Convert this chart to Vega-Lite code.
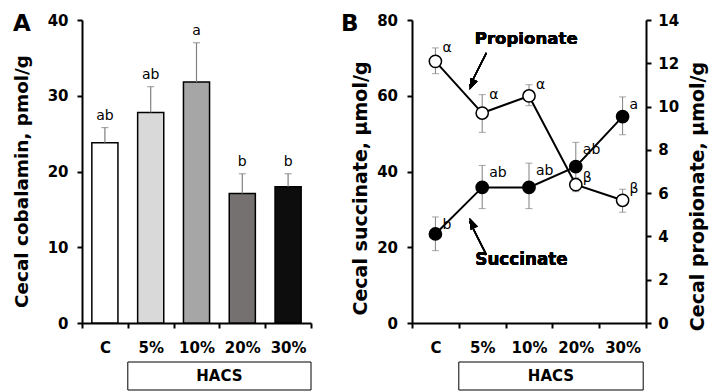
{
  "$schema": "https://vega.github.io/schema/vega-lite/v6.json",
  "padding": {"left": 12, "top": 12, "right": 2, "bottom": 0},
  "background": "white",
  "config": {
    "view": {"stroke": null},
    "font": "DejaVu Sans",
    "axis": {
      "domainColor": "black", "domainWidth": 2, "ticks": true, "tickSize": 5, "tickColor": "black", "tickWidth": 2, "zindex": 1,
      "grid": false,
      "labelFont": "DejaVu Sans", "labelFontWeight": "bold", "labelFontSize": 15, "labelColor": "black",
      "titleFont": "DejaVu Sans", "titleFontWeight": "bold", "titleFontSize": 18.4, "titleColor": "black"
    }
  },
  "columns": 2,
  "spacing": {"column": 101, "row": 39},
  "bounds": "flush",
  "concat": [
    {
      "width": 229, "height": 303,
      "title": {"text": "A", "anchor": "start", "frame": "group", "fontSize": 23, "fontWeight": "bold", "font": "DejaVu Sans", "color": "black", "baseline": "alphabetic", "offset": 0, "dx": -69, "dy": 40.7},
      "data": {"values": [
        {"diet": "C", "mean": 23.8, "hi": 25.8, "letter": "ab"},
        {"diet": "5%", "mean": 27.8, "hi": 31.2, "letter": "ab"},
        {"diet": "10%", "mean": 31.8, "hi": 37.0, "letter": "a"},
        {"diet": "20%", "mean": 17.1, "hi": 19.7, "letter": "b"},
        {"diet": "30%", "mean": 18.0, "hi": 19.7, "letter": "b"}
      ]},
      "layer": [
        {
          "mark": {"type": "bar", "stroke": "black", "strokeWidth": 1.5, "width": {"band": 0.57}},
          "encoding": {
            "x": {"field": "diet", "type": "nominal", "sort": null,
                  "scale": {"domain": ["C", "5%", "10%", "20%", "30%"], "paddingInner": 0, "paddingOuter": 0},
                  "axis": {"title": null, "labelAngle": 0, "tickBand": "extent", "labelPadding": 12.5}},
            "y": {"field": "mean", "type": "quantitative", "scale": {"domain": [0, 40]},
                  "axis": {"values": [0, 10, 20, 30, 40], "labelPadding": 9, "title": "Cecal cobalamin, pmol/g",
                           "titleX": -54.3, "titleY": 161, "titleBaseline": "alphabetic"}},
            "fill": {"field": "diet", "type": "nominal", "sort": null,
                     "scale": {"domain": ["C", "5%", "10%", "20%", "30%"], "range": ["#ffffff", "#d9d9d9", "#a6a6a6", "#767171", "#0d0d0d"]},
                     "legend": null}
          }
        },
        {
          "mark": {"type": "rule", "color": "#808080", "strokeWidth": 1.2},
          "encoding": {
            "x": {"field": "diet", "type": "nominal", "sort": null},
            "y": {"field": "mean", "type": "quantitative"},
            "y2": {"field": "hi"}
          }
        },
        {
          "mark": {"type": "tick", "orient": "horizontal", "color": "#808080", "thickness": 1.2, "size": 7},
          "encoding": {
            "x": {"field": "diet", "type": "nominal", "sort": null},
            "y": {"field": "hi", "type": "quantitative"}
          }
        },
        {
          "mark": {"type": "text", "baseline": "alphabetic", "dy": -8, "fontSize": 14, "font": "DejaVu Sans", "color": "black"},
          "encoding": {
            "x": {"field": "diet", "type": "nominal", "sort": null},
            "y": {"field": "hi", "type": "quantitative"},
            "text": {"field": "letter"}
          }
        }
      ]
    },
    {
      "width": 234, "height": 303,
      "title": {"text": "B", "anchor": "start", "frame": "group", "fontSize": 23, "fontWeight": "bold", "font": "DejaVu Sans", "color": "black", "baseline": "alphabetic", "offset": 0, "dx": -71, "dy": 40.7},
      "data": {"values": [
        {"diet": "C", "succ": 23.5, "sLo": 19.1, "sHi": 28.0, "sLet": "b", "prop": 12.09, "pLo": 11.52, "pHi": 12.71, "pLet": "α"},
        {"diet": "5%", "succ": 35.8, "sLo": 30.2, "sHi": 41.6, "sLet": "ab", "prop": 9.7, "pLo": 8.81, "pHi": 10.55, "pLet": "α"},
        {"diet": "10%", "succ": 35.8, "sLo": 30.2, "sHi": 42.2, "sLet": "ab", "prop": 10.49, "pLo": 10.04, "pHi": 11.01, "pLet": "α"},
        {"diet": "20%", "succ": 41.3, "sLo": 35.0, "sHi": 47.7, "sLet": "ab", "prop": 6.39, "pLo": 6.07, "pHi": 6.71, "pLet": "β"},
        {"diet": "30%", "succ": 54.5, "sLo": 49.7, "sHi": 59.7, "sLet": "a", "prop": 5.67, "pLo": 5.12, "pHi": 6.18, "pLet": "β"}
      ]},
      "resolve": {"scale": {"y": "independent"}},
      "layer": [
        {
          "layer": [
            {
              "mark": {"type": "rule", "color": "#808080", "strokeWidth": 1},
              "encoding": {
                "x": {"field": "diet", "type": "nominal", "sort": null,
                      "scale": {"domain": ["C", "5%", "10%", "20%", "30%"], "paddingInner": 0, "paddingOuter": 0},
                      "axis": {"title": null, "labelAngle": 0, "tickBand": "extent", "labelPadding": 12.5}},
                "y": {"field": "sLo", "type": "quantitative", "scale": {"domain": [0, 80]},
                      "axis": {"values": [0, 10, 20, 30, 40, 50, 60, 70, 80], "labelExpr": "datum.value % 20 === 0 ? datum.label : ''",
                               "labelPadding": 9.5, "title": "Cecal succinate, μmol/g", "titleFontSize": 19,
                               "titleX": -45.7, "titleY": 168, "titleBaseline": "alphabetic"}},
                "y2": {"field": "sHi"}
              }
            },
            {
              "mark": {"type": "tick", "orient": "horizontal", "color": "#808080", "thickness": 1, "size": 7},
              "encoding": {"x": {"field": "diet", "type": "nominal", "sort": null}, "y": {"field": "sLo", "type": "quantitative"}}
            },
            {
              "mark": {"type": "tick", "orient": "horizontal", "color": "#808080", "thickness": 1, "size": 7},
              "encoding": {"x": {"field": "diet", "type": "nominal", "sort": null}, "y": {"field": "sHi", "type": "quantitative"}}
            },
            {
              "mark": {"type": "line", "color": "black", "strokeWidth": 2},
              "encoding": {"x": {"field": "diet", "type": "nominal", "sort": null}, "y": {"field": "succ", "type": "quantitative"}}
            },
            {
              "mark": {"type": "point", "shape": "circle", "filled": true, "fill": "black", "stroke": "black", "strokeWidth": 1.5, "size": 150, "opacity": 1},
              "encoding": {"x": {"field": "diet", "type": "nominal", "sort": null}, "y": {"field": "succ", "type": "quantitative"}}
            },
            {
              "mark": {"type": "text", "align": "left", "baseline": "middle", "dx": 7, "dy": 8, "fontSize": 14, "font": "DejaVu Sans", "color": "black"},
              "encoding": {"x": {"field": "diet", "type": "nominal", "sort": null}, "y": {"field": "sHi", "type": "quantitative"}, "text": {"field": "sLet"}}
            },
            {
              "mark": {"type": "text", "fontWeight": "bold", "fontSize": 16.6, "font": "DejaVu Sans", "color": "black", "baseline": "middle"},
              "encoding": {"x": {"datum": "10%", "bandPosition": 0.44}, "y": {"datum": 75}, "text": {"value": "Propionate"}}
            },
            {
              "mark": {"type": "text", "fontWeight": "bold", "fontSize": 16.8, "font": "DejaVu Sans", "color": "black", "baseline": "middle"},
              "encoding": {"x": {"datum": "10%", "bandPosition": 0.34}, "y": {"datum": 16.7}, "text": {"value": "Succinate"}}
            },
            {
              "mark": {"type": "rule", "color": "black", "strokeWidth": 1.5},
              "encoding": {"x": {"datum": "5%", "bandPosition": 0.59}, "x2": {"datum": "5%", "bandPosition": 0.23}, "y": {"datum": 71.3}, "y2": {"datum": 62.5}}
            },
            {
              "mark": {"type": "rule", "color": "black", "strokeWidth": 1.5},
              "encoding": {"x": {"datum": "5%", "bandPosition": 0.59}, "x2": {"datum": "5%", "bandPosition": 0.23}, "y": {"datum": 18.0}, "y2": {"datum": 26.8}}
            },
            {
              "mark": {"type": "point", "shape": "M0,0L0.36,1L-0.36,1Z", "filled": true, "color": "black", "opacity": 1, "size": 484, "angle": 204},
              "encoding": {"x": {"datum": "5%", "bandPosition": 0.23}, "y": {"datum": 61.6}}
            },
            {
              "mark": {"type": "point", "shape": "M0,0L0.36,1L-0.36,1Z", "filled": true, "color": "black", "opacity": 1, "size": 484, "angle": 335},
              "encoding": {"x": {"datum": "5%", "bandPosition": 0.23}, "y": {"datum": 27.7}}
            }
          ]
        },
        {
          "layer": [
            {
              "mark": {"type": "rule", "color": "#808080", "strokeWidth": 1},
              "encoding": {
                "x": {"field": "diet", "type": "nominal", "sort": null},
                "y": {"field": "pLo", "type": "quantitative", "scale": {"domain": [0, 14]},
                      "axis": {"orient": "right", "values": [0, 2, 4, 6, 8, 10, 12, 14], "labelPadding": 6.7,
                               "title": "Cecal propionate, μmol/g", "titleFontSize": 19, "titleAngle": -90,
                               "titleX": 57, "titleY": 176, "titleBaseline": "alphabetic"}},
                "y2": {"field": "pHi"}
              }
            },
            {
              "mark": {"type": "tick", "orient": "horizontal", "color": "#808080", "thickness": 1, "size": 7},
              "encoding": {"x": {"field": "diet", "type": "nominal", "sort": null}, "y": {"field": "pLo", "type": "quantitative"}}
            },
            {
              "mark": {"type": "tick", "orient": "horizontal", "color": "#808080", "thickness": 1, "size": 7},
              "encoding": {"x": {"field": "diet", "type": "nominal", "sort": null}, "y": {"field": "pHi", "type": "quantitative"}}
            },
            {
              "mark": {"type": "line", "color": "black", "strokeWidth": 2},
              "encoding": {"x": {"field": "diet", "type": "nominal", "sort": null}, "y": {"field": "prop", "type": "quantitative"}}
            },
            {
              "mark": {"type": "point", "shape": "circle", "filled": true, "fill": "white", "stroke": "black", "strokeWidth": 1.5, "size": 150, "opacity": 1},
              "encoding": {"x": {"field": "diet", "type": "nominal", "sort": null}, "y": {"field": "prop", "type": "quantitative"}}
            },
            {
              "mark": {"type": "text", "align": "left", "baseline": "middle", "dx": 7, "fontSize": 14, "font": "DejaVu Sans", "color": "black"},
              "encoding": {"x": {"field": "diet", "type": "nominal", "sort": null}, "y": {"field": "pHi", "type": "quantitative"}, "text": {"field": "pLet"}}
            }
          ]
        }
      ]
    },
    {
      "width": 229, "height": 28,
      "data": {"values": [{"group": "HACS", "start": 1, "end": 5, "mid": 3, "level": 0.5}]},
      "layer": [
        {
          "mark": {"type": "rect", "fill": "white", "stroke": "black", "strokeWidth": 1},
          "encoding": {
            "x": {"field": "start", "type": "quantitative", "scale": {"domain": [0, 5]}, "axis": null},
            "x2": {"field": "end"},
            "y": {"datum": 0, "type": "quantitative", "scale": {"domain": [0, 1]}, "axis": null},
            "y2": {"datum": 1}
          }
        },
        {
          "mark": {"type": "text", "fontWeight": "bold", "fontSize": 15, "font": "DejaVu Sans", "color": "black", "baseline": "middle"},
          "encoding": {
            "x": {"field": "mid", "type": "quantitative"},
            "y": {"field": "level", "type": "quantitative"},
            "text": {"field": "group"}
          }
        }
      ]
    },
    {
      "width": 234, "height": 28,
      "data": {"values": [{"group": "HACS", "start": 1, "end": 4.94, "mid": 2.97, "level": 0.5}]},
      "layer": [
        {
          "mark": {"type": "rect", "fill": "white", "stroke": "black", "strokeWidth": 1},
          "encoding": {
            "x": {"field": "start", "type": "quantitative", "scale": {"domain": [0, 5]}, "axis": null},
            "x2": {"field": "end"},
            "y": {"datum": 0, "type": "quantitative", "scale": {"domain": [0, 1]}, "axis": null},
            "y2": {"datum": 1}
          }
        },
        {
          "mark": {"type": "text", "fontWeight": "bold", "fontSize": 15, "font": "DejaVu Sans", "color": "black", "baseline": "middle"},
          "encoding": {
            "x": {"field": "mid", "type": "quantitative"},
            "y": {"field": "level", "type": "quantitative"},
            "text": {"field": "group"}
          }
        }
      ]
    }
  ]
}
